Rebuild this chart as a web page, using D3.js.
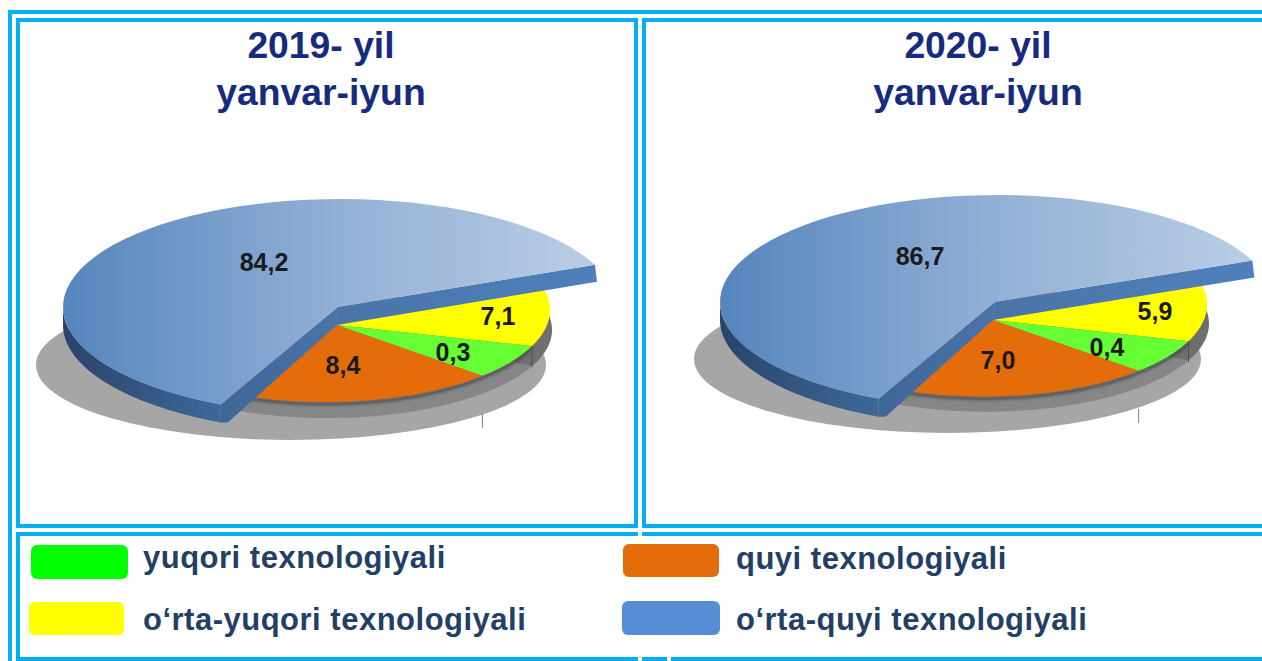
<!DOCTYPE html>
<html>
<head>
<meta charset="utf-8">
<script src="https://cdn.jsdelivr.net/npm/d3@7"></script>
<style>
  html, body { margin: 0; padding: 0; background: #fff; overflow: hidden; }
  text { font-family: "Liberation Sans", Arial, sans-serif; font-weight: bold; }
</style>
</head>
<body>
<svg width="1262" height="661"></svg>
<script>
// order is clockwise from the hidden edge of the yellow slice
const categories = ["o‘rta-yuqori texnologiyali", "yuqori texnologiyali", "quyi texnologiyali", "o‘rta-quyi texnologiyali"];
const colors = ["#ffff00", "#66ff33", "#e46c0a", "#558ed5"];
const values2019 = [7.1, 0.3, 8.4, 84.2];
const values2020 = [5.9, 0.4, 7.0, 86.7];
const titles2019 = ["2019- yil", "yanvar-iyun"];
const titles2020 = ["2020- yil", "yanvar-iyun"];

// the slices in the source picture are not proportional to their values,
// so the drawn sweep (degrees) is read off the picture and mapped by a scale
const sweeps2019 = [46.1, 22.5, 69.9, 221.5];
const sweeps2020 = [46.3, 22.6, 69.2, 221.9];

const svg = d3.select("svg");
const defs = svg.append("defs");
const rad = d => d * Math.PI / 180;
const line = d3.line();

function gradient(id, stops, x1 = 0, y1 = 0, x2 = 1, y2 = 0) {
  const g = defs.append("linearGradient").attr("id", id)
    .attr("x1", x1).attr("y1", y1).attr("x2", x2).attr("y2", y2);
  stops.forEach(([o, c]) => g.append("stop").attr("offset", o).attr("stop-color", c));
}
gradient("topBlue", [[0, "#5585bd"], [0.5, "#91afd5"], [1, "#bacde5"]]);
gradient("sideBlue", [[0, "#29446a"], [1, "#3e6899"]]);
gradient("wallA", [[0, "#4a74a8"], [1, "#4f80bd"]]);
gradient("wallB", [[0, "#3e6797"], [1, "#4a74a8"]]);
defs.append("filter").attr("id", "soft").append("feGaussianBlur").attr("stdDeviation", 1.6);

// frame lines
const frameColor = "#00b0f0";
const frame = [
  [8, 12, 1262, 12], [10, 10, 10, 661],
  [16, 20, 638, 20], [18, 18, 18, 528], [636, 18, 636, 528], [16, 526, 638, 526],
  [644, 20, 1262, 20], [644, 18, 644, 528], [642, 526, 1262, 526],
  [16, 534, 638, 534], [642, 534, 1262, 534], [18, 532, 18, 661],
  [16, 659, 638, 659], [642, 659, 667, 659], [671, 659, 1262, 659]
];
svg.append("g").selectAll("line").data(frame).join("line")
  .attr("x1", d => d[0]).attr("y1", d => d[1])
  .attr("x2", d => d[2]).attr("y2", d => d[3])
  .attr("stroke", frameColor).attr("stroke-width", 4);

function drawPanel(p) {
  const g = svg.append("g");

  g.selectAll(".title").data(p.titles).join("text")
    .attr("class", "title")
    .attr("x", p.titleX)
    .attr("y", (d, i) => 58 + i * 47)
    .attr("text-anchor", "middle")
    .attr("font-size", 37.3)
    .attr("fill", "#172b7e")
    .text(d => d);

  // sweep from value, then d3.pie for the angles
  const order = d3.range(p.values.length).sort((a, b) => p.values[a] - p.values[b]);
  const sweep = d3.scaleLinear()
    .domain(order.map(i => p.values[i]))
    .range(order.map(i => p.sweeps[i]));
  const arcs = d3.pie().sort(null)
    .value(d => sweep(d))
    .startAngle(rad(90 + p.startDeg))
    .endAngle(rad(450 + p.startDeg))(p.values);

  const pt = (e, a, dy = 0) => [e.cx + e.rx * Math.sin(a), e.cy - e.ry * Math.cos(a) + dy];
  const sample = (e, a0, a1, dy) => d3.range(0, 61).map(i => pt(e, a0 + (a1 - a0) * i / 60, dy));
  // wedge from an apex that sits off the ellipse centre, like in the picture
  const wedge = (e, a0, a1) => line([[e.ax, e.ay]].concat(sample(e, a0, a1))) + "Z";

  const rim = p.rim, under = p.under, big = p.big;
  const ring = arcs.slice(0, 3), blue = arcs[3];

  // floor shadow
  g.append("ellipse").attr("cx", p.floor.cx).attr("cy", p.floor.cy)
    .attr("rx", p.floor.rx).attr("ry", p.floor.ry).attr("fill", "#a6a6a6");

  // side of the small pie: its own ellipse below the rim, darker right of the first tick
  const t1 = pt(rim, ring[0].endAngle), t2 = pt(rim, ring[1].endAngle);
  const split = Math.PI - Math.asin((t1[0] - under.cx) / under.rx);
  g.append("path").attr("d", wedge(under, split, ring[2].endAngle)).attr("fill", "#868686");
  g.append("path").attr("d", wedge(under, ring[0].startAngle, split)).attr("fill", "#6f6f6f");

  // soft dark line under the front edge
  g.append("path")
    .attr("d", line(sample(rim, ring[1].startAngle, ring[2].endAngle, 2)))
    .attr("fill", "none").attr("stroke", "#444").attr("stroke-width", 2.5)
    .attr("filter", "url(#soft)");

  g.selectAll(".slice").data(ring).join("path")
    .attr("class", "slice")
    .attr("d", d => wedge(rim, d.startAngle, d.endAngle))
    .attr("fill", (d, i) => colors[i]);

  // the two thin leader ticks
  g.append("line").attr("x1", t1[0]).attr("x2", t1[0])
    .attr("y1", t1[1]).attr("y2", t1[1] + 21).attr("stroke", "#4d4d4d");
  g.append("line").attr("x1", t2[0]).attr("x2", t2[0])
    .attr("y1", t2[1] + 38).attr("y2", t2[1] + 52).attr("stroke", "#808080");

  // the pulled-out big slice: outer side, cut walls, top
  const from = blue.startAngle, to = rad(270);
  g.append("path")
    .attr("d", line(sample(big, from, to, 0).concat(sample(big, to, from, big.depth))) + "Z")
    .attr("fill", "url(#sideBlue)");

  const apex = [big.ax, big.ay], low = [rim.ax, rim.ay];
  const tipA = pt(big, blue.endAngle), tipB = pt(big, blue.startAngle);
  g.append("path")
    .attr("d", line([apex, tipA, [tipA[0] + 2, tipA[1] + big.depth - 1], low]) + "Z")
    .attr("fill", "url(#wallA)");
  g.append("path")
    .attr("d", line([apex, tipB, [tipB[0], tipB[1] + big.depth], [tipB[0] + 7, tipB[1] + big.depth], low]) + "Z")
    .attr("fill", "url(#wallB)");
  g.append("path").attr("d", wedge(big, blue.startAngle, blue.endAngle))
    .attr("fill", "url(#topBlue)");

  g.selectAll(".val").data(p.values).join("text")
    .attr("class", "val")
    .attr("x", (d, i) => p.labels[i][0])
    .attr("y", (d, i) => p.labels[i][1])
    .attr("text-anchor", "middle")
    .attr("font-size", 25)
    .attr("fill", "#1a1a1a")
    .text(d => d3.format(".1f")(d).replace(".", ","));
}

drawPanel({
  titles: titles2019, titleX: 321,
  values: values2019, sweeps: sweeps2019, startDeg: -23,
  big: { cx: 340, cy: 307, rx: 277, ry: 108, ax: 338, ay: 307, depth: 18 },
  rim: { cx: 325, cy: 310, rx: 225, ry: 92, ax: 337, ay: 325 },
  under: { cx: 327, cy: 330, rx: 225, ry: 88, ax: 337, ay: 325 },
  floor: { cx: 291, cy: 365, rx: 255, ry: 75 },
  labels: [[498, 325], [453, 361], [343, 374], [264, 271]]
});
drawPanel({
  titles: titles2020, titleX: 978,
  values: values2020, sweeps: sweeps2020, startDeg: -22.8,
  big: { cx: 997, cy: 302, rx: 277, ry: 107, ax: 995, ay: 302, depth: 18 },
  rim: { cx: 984, cy: 304.5, rx: 223, ry: 92, ax: 993, ay: 320 },
  under: { cx: 986, cy: 323.7, rx: 223, ry: 88, ax: 993, ay: 320 },
  floor: { cx: 947.5, cy: 359, rx: 253.5, ry: 74 },
  labels: [[1155, 320], [1107, 356], [998, 369], [920, 265]]
});

// legend
const legendBoxes = [[29, 602, 95, 33], [31, 545, 97, 34], [623, 544, 96, 33], [622, 601, 98, 34]];
const legendText = [[143, 630], [143, 568], [736, 569], [736, 630]];
const legendColors = ["#ffff00", "#00ff00", "#e46c0a", "#558ed5"];
const legend = svg.append("g");
legend.selectAll("rect").data(categories).join("rect")
  .attr("x", (d, i) => legendBoxes[i][0]).attr("y", (d, i) => legendBoxes[i][1])
  .attr("width", (d, i) => legendBoxes[i][2]).attr("height", (d, i) => legendBoxes[i][3])
  .attr("rx", 6)
  .attr("fill", (d, i) => legendColors[i]);
legend.selectAll("text").data(categories).join("text")
  .attr("x", (d, i) => legendText[i][0]).attr("y", (d, i) => legendText[i][1])
  .attr("font-size", 31)
  .attr("letter-spacing", 0.5)
  .attr("fill", "#243f66")
  .text(d => d);
</script>
</body>
</html>
